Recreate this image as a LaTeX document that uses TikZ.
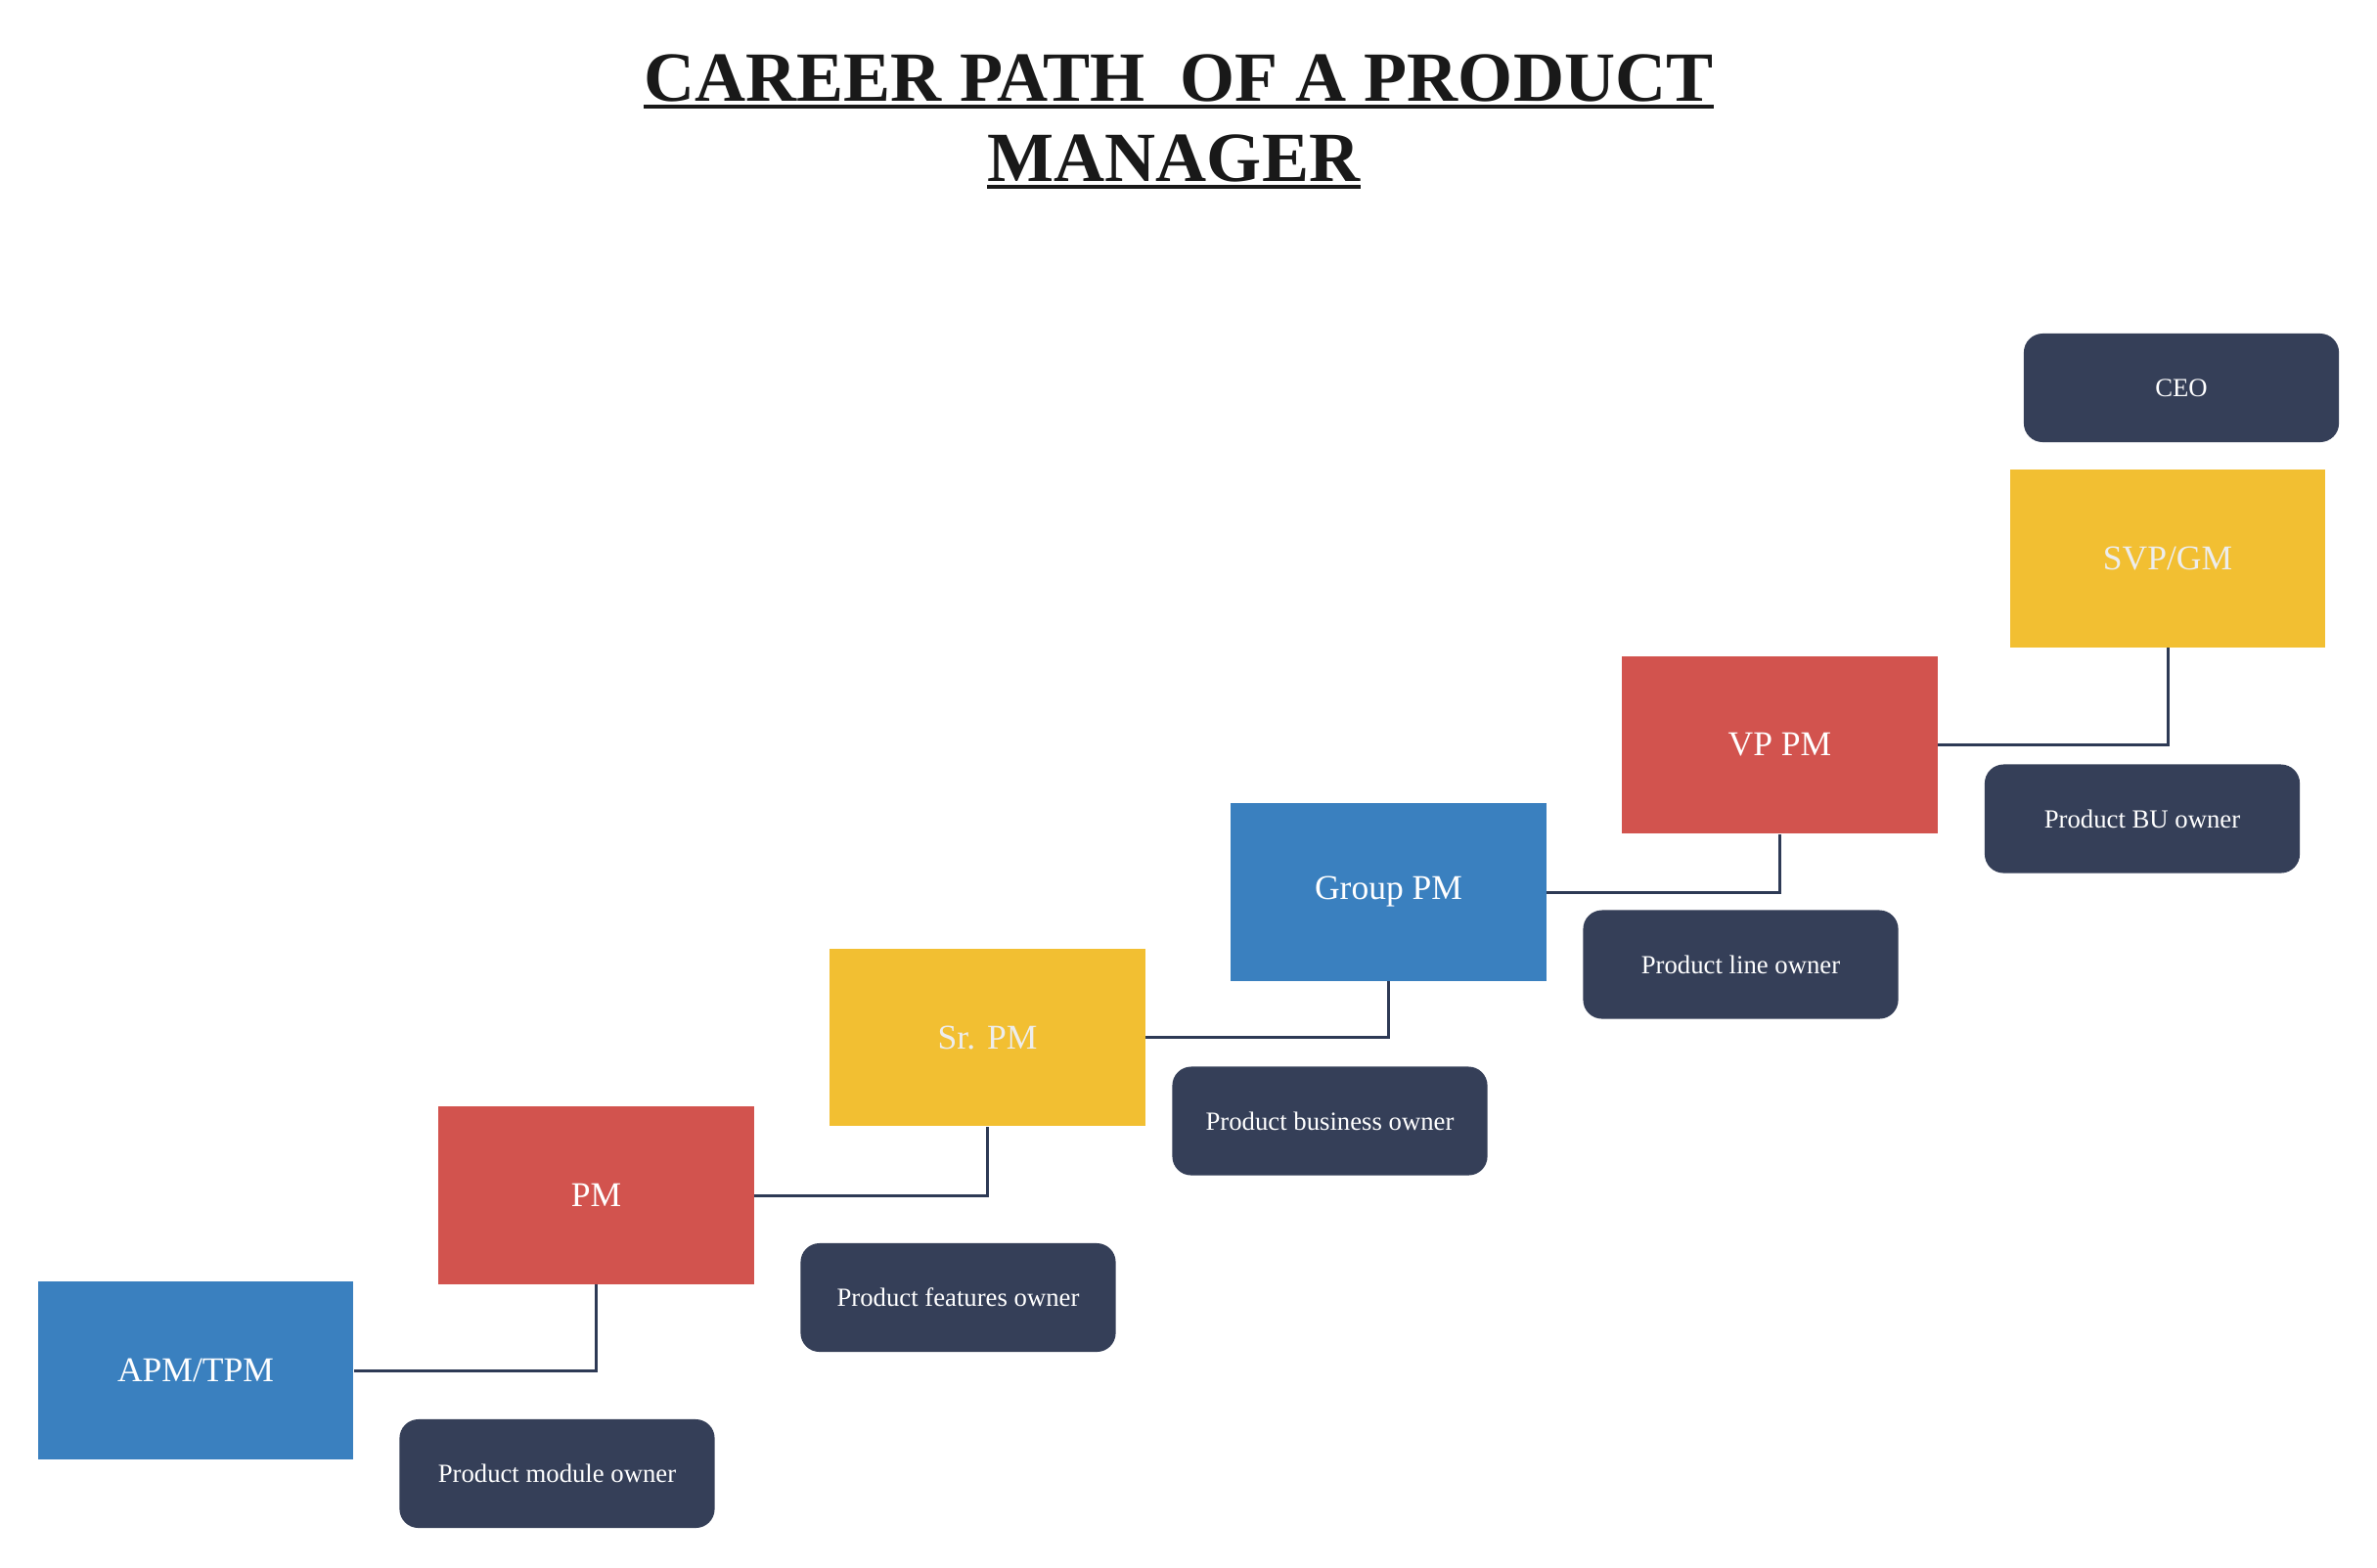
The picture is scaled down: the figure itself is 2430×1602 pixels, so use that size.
\documentclass[tikz,border=0pt]{standalone}
\usepackage{fontspec}
\setmainfont{Liberation Serif}
\definecolor{stepblue}{HTML}{3A80BF}
\definecolor{stepred}{HTML}{D2534E}
\definecolor{stepyellow}{HTML}{F2BF32}
\definecolor{ownerdark}{HTML}{353F58}
\definecolor{linkdark}{HTML}{2E3A55}
\tikzset{
  rolebox/.style={rectangle,minimum width=3.22cm,minimum height=1.81cm,inner sep=0pt,
    text=white,font=\fontsize{10.1}{12}\selectfont},
  ownerbox/.style={rectangle,rounded corners=5.5pt,fill=ownerdark,minimum width=3.22cm,
    minimum height=1.11cm,inner sep=0pt,text=white,font=\fontsize{7.6}{9}\selectfont},
  link/.style={draw=linkdark,line width=0.85pt},
  titleline/.style={inner sep=0pt,anchor=base,text=black!90,font=\fontsize{20.5}{24}\selectfont\bfseries}
}
\begin{document}
\begin{tikzpicture}[x=0.01cm,y=-0.01cm]
\useasboundingbox (0,0) rectangle (2430,1602);
% title
\node[titleline] (title1) at (1205,103) {CAREER PATH\ \ OF A PRODUCT\ };
\node[titleline] (title2) at (1200,185) {MANAGER};
\draw[line width=1.1pt,black!90] ([yshift=-1.6pt]title1.base west) -- ([yshift=-1.6pt]title1.base east);
\draw[line width=1.1pt,black!90] ([yshift=-1.6pt]title2.base west) -- ([yshift=-1.6pt]title2.base east);
% the steps
\node[rolebox,fill=stepblue] (apm) at (200,1401) {APM/TPM};
\node[rolebox,fill=stepred] (pm) at (609.5,1222) {PM};
\node[rolebox,fill=stepyellow,text=black!7] (srpm) at (1009.5,1060.5) {Sr. PM};
\node[rolebox,fill=stepblue] (grouppm) at (1419.5,912) {Group PM};
\node[rolebox,fill=stepred] (vppm) at (1819.5,761.5) {VP PM};
\node[rolebox,fill=stepyellow,text=black!7] (svpgm) at (2216,571) {SVP/GM};
% what each step owns
\node[ownerbox] (module) at (569.5,1506.5) {Product module owner};
\node[ownerbox] (features) at (979.5,1326.5) {Product features owner};
\node[ownerbox] (business) at (1359.5,1146) {Product business owner};
\node[ownerbox] (line) at (1779.5,986) {Product line owner};
\node[ownerbox] (bu) at (2190,837) {Product BU owner};
\node[ownerbox] (ceo) at (2230,396.5) {CEO};
% links between steps
\foreach \a/\b in {apm/pm,pm/srpm,srpm/grouppm,grouppm/vppm,vppm/svpgm} {
  \draw[link] (\a.east) -| (\b.south);
}
\end{tikzpicture}
\end{document}
